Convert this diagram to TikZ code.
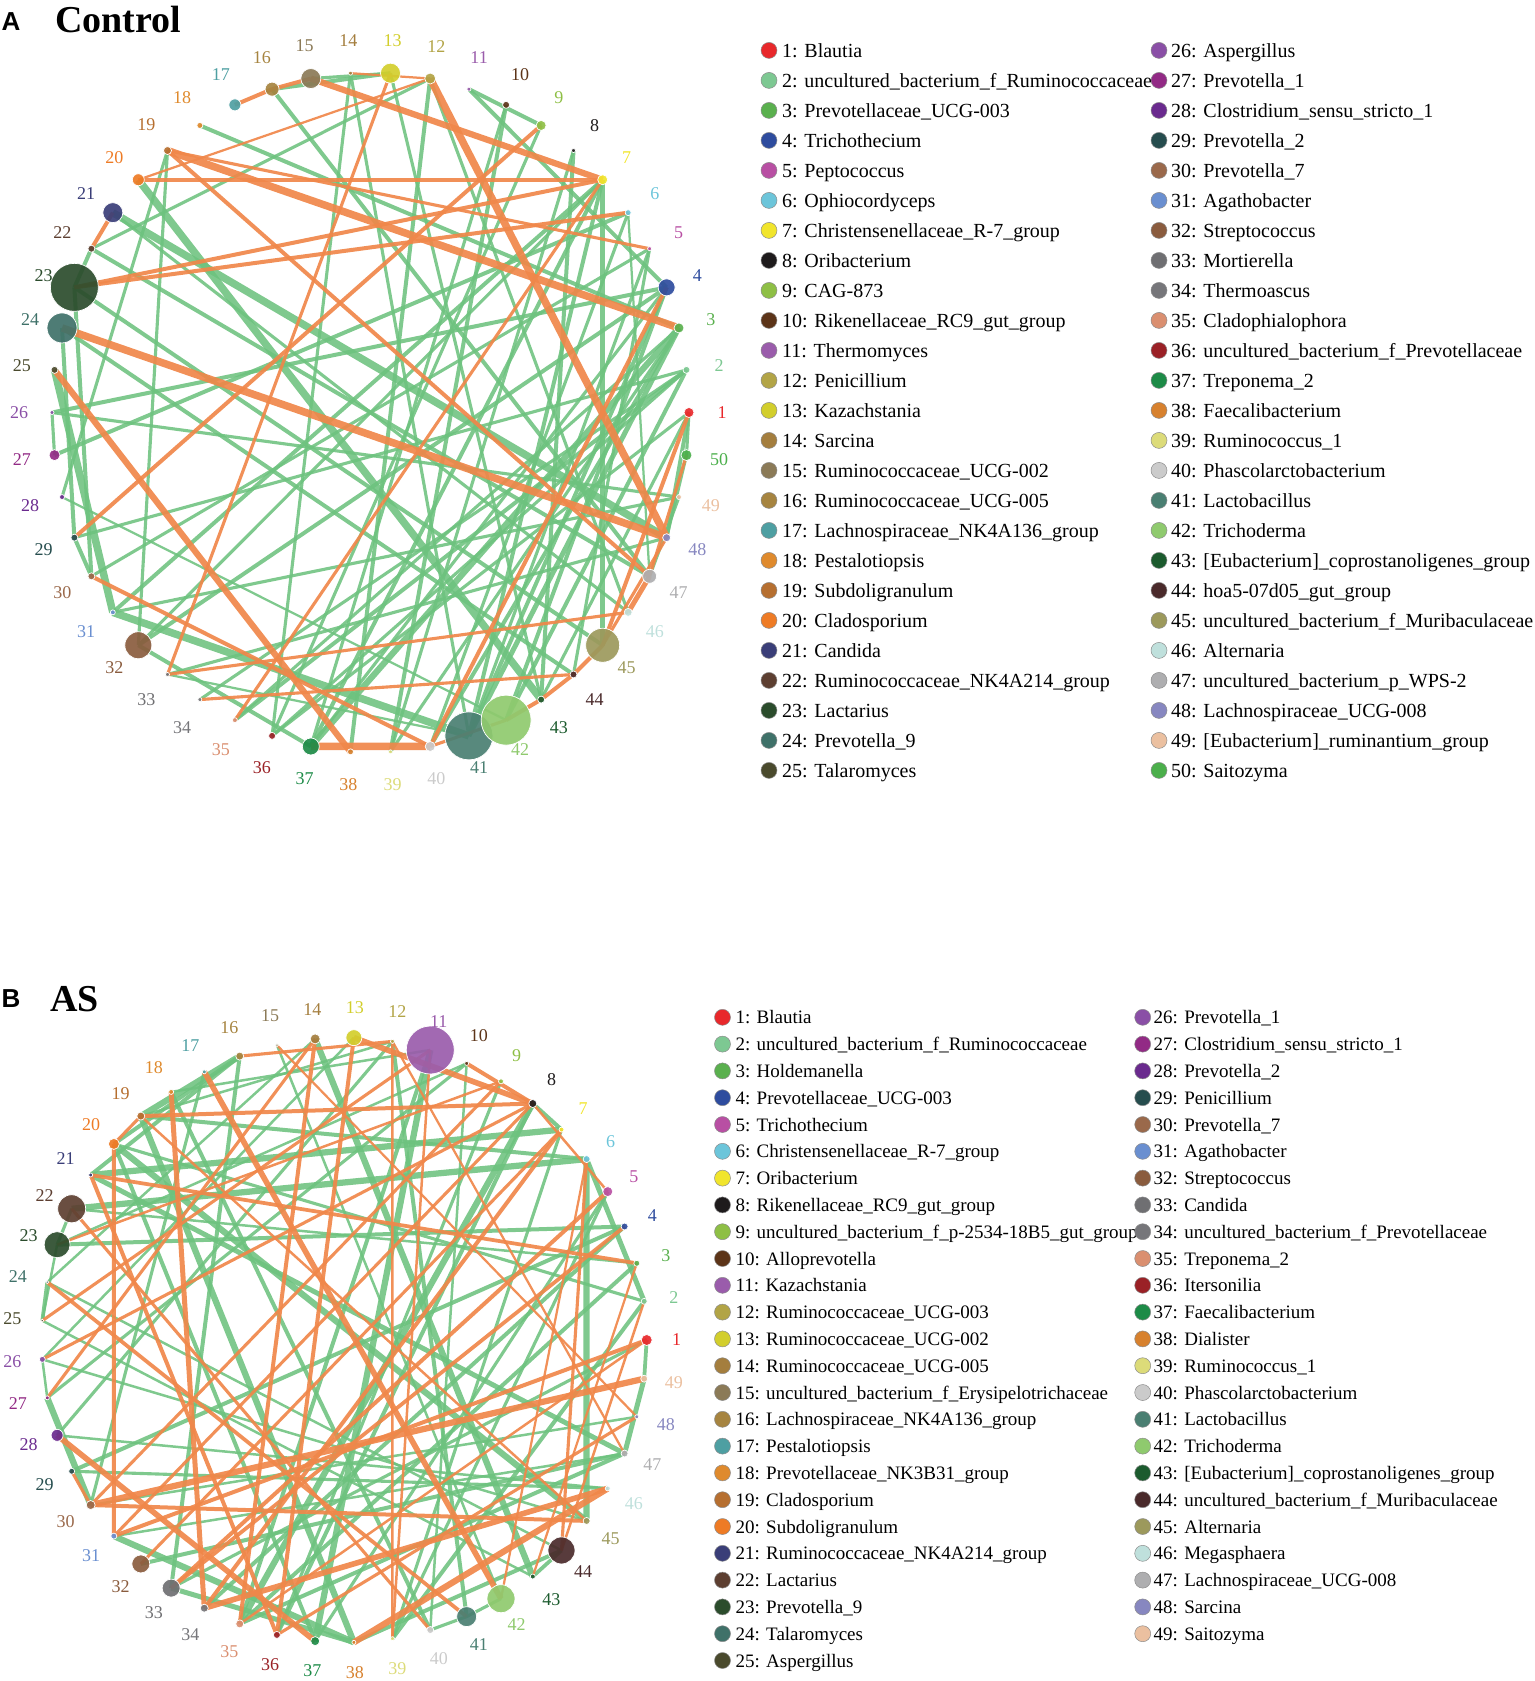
\documentclass[tikz,border=0pt]{standalone}
\usepackage{fontspec}
\setmainfont{Liberation Serif}
\setsansfont{Liberation Sans}
\usetikzlibrary{backgrounds}

% palette, one colour per taxon index
\definecolor{c1}{HTML}{E8282B}
\definecolor{c2}{HTML}{7DC892}
\definecolor{c3}{HTML}{5AB04E}
\definecolor{c4}{HTML}{2E4C9E}
\definecolor{c5}{HTML}{B84FA3}
\definecolor{c6}{HTML}{6CC5DA}
\definecolor{c7}{HTML}{F1E52C}
\definecolor{c8}{HTML}{1E1B1C}
\definecolor{c9}{HTML}{8EBF45}
\definecolor{c10}{HTML}{5C3418}
\definecolor{c11}{HTML}{9A5CAB}
\definecolor{c12}{HTML}{B2A446}
\definecolor{c13}{HTML}{D2CE2C}
\definecolor{c14}{HTML}{A47E3E}
\definecolor{c15}{HTML}{8B7A57}
\definecolor{c16}{HTML}{A68440}
\definecolor{c17}{HTML}{4E9FA2}
\definecolor{c18}{HTML}{DF8A2D}
\definecolor{c19}{HTML}{B66F30}
\definecolor{c20}{HTML}{EE7B25}
\definecolor{c21}{HTML}{3A3E78}
\definecolor{c22}{HTML}{5D3F31}
\definecolor{c23}{HTML}{2B4C2C}
\definecolor{c24}{HTML}{3F7169}
\definecolor{c25}{HTML}{4A4A2D}
\definecolor{c26}{HTML}{8A4FA6}
\definecolor{c27}{HTML}{922A85}
\definecolor{c28}{HTML}{6A2A8E}
\definecolor{c29}{HTML}{264D4E}
\definecolor{c30}{HTML}{9A694B}
\definecolor{c31}{HTML}{6A8FD0}
\definecolor{c32}{HTML}{8A5C3E}
\definecolor{c33}{HTML}{6F6F72}
\definecolor{c34}{HTML}{76767A}
\definecolor{c35}{HTML}{DA8F70}
\definecolor{c36}{HTML}{9A2126}
\definecolor{c37}{HTML}{1D8B47}
\definecolor{c38}{HTML}{D7812E}
\definecolor{c39}{HTML}{DCDB79}
\definecolor{c40}{HTML}{CBCBCB}
\definecolor{c41}{HTML}{4A7F72}
\definecolor{c42}{HTML}{8FCA6E}
\definecolor{c43}{HTML}{1C5B2E}
\definecolor{c44}{HTML}{4A2A2B}
\definecolor{c45}{HTML}{9C995C}
\definecolor{c46}{HTML}{BFE0DC}
\definecolor{c47}{HTML}{AEAEB0}
\definecolor{c48}{HTML}{8787C0}
\definecolor{c49}{HTML}{EBC0A0}
\definecolor{c50}{HTML}{4BAF4B}
\definecolor{poscol}{HTML}{6DC27E}
\definecolor{negcol}{HTML}{F0874A}

\tikzset{
  taxon/.style={circle, inner sep=0pt, draw=white, line width=0.7pt, fill opacity=0.92},
  poslink/.style={draw=poscol, draw opacity=0.88},
  neglink/.style={draw=negcol, draw opacity=0.92},
  num/.style={font=\fontsize{18}{18}\selectfont, inner sep=0pt},
  legdot/.style={circle, inner sep=0pt, minimum size=16pt, draw=black!45, line width=0.5pt},
  legA/.style={anchor=base west, inner sep=0pt, font=\fontsize{20}{20}\selectfont},
  legB/.style={anchor=base west, inner sep=0pt, font=\fontsize{19}{19}\selectfont},
  paneltag/.style={font=\sffamily\bfseries\fontsize{26}{26}\selectfont, inner sep=0pt},
  paneltitle/.style={font=\bfseries\fontsize{38}{38}\selectfont, inner sep=0pt, anchor=west},
}

\begin{document}
\begin{tikzpicture}[x=1pt, y=-1pt]
\useasboundingbox (0,0) rectangle (1534,1681);

% panel headings
\node[paneltag] (tagA) at (11,22) {A};
\node[paneltitle] (titA) at (55,20) {Control};
\node[paneltag] (tagB) at (11,999) {B};
\node[paneltitle] (titB) at (50,999) {AS};

% ---- network A (Control), 50 taxa on an ellipse
\foreach \i/\r in {1/5,2/3.5,3/5,4/8.5,5/2,6/3,7/5,8/2,9/5,10/3.5,11/2,12/5.5,13/10,14/2,15/10,16/7,17/6,18/3,19/4,20/6,21/10,22/3.5,23/24,24/15,25/3.5,26/2,27/5.5,28/2.5,29/3.5,30/3.5,31/2.5,32/13.5,33/2,34/2,35/2.5,36/3.5,37/8.5,38/3,39/2,40/5,41/24,42/25,43/3.5,44/3.5,45/17,46/4,47/7,48/4,49/2.5,50/5.5}{
  \node[taxon, fill=c\i, minimum size=2*\r pt] (a\i) at ({370.5+318.5*cos((\i-1)*7.2)},{412.5-340*sin((\i-1)*7.2)}) {};
  \node[num, text=c\i] (al\i) at ({370.5+351.5*cos((\i-1)*7.2)},{412.5-373*sin((\i-1)*7.2)}) {\i};
}

\begin{scope}[on background layer]
  \foreach \s/\t/\w in {20/43/6,21/48/6,25/31/6,31/41/6,37/3/5,7/45/4.5,16/13/3.2,15/13/2.5,16/47/3.2,11/9/3.2,11/4/3.2,10/39/3.2,10/37/2.5,8/43/3.2,7/41/3.2,7/37/3.2,7/32/2.5,7/31/3.2,6/47/1.8,5/44/2.5,5/41/2.5,4/41/3.2,4/42/3.2,4/37/2.5,3/41/4,3/40/3.2,3/39/2.5,2/42/3.2,2/35/3.2,2/36/2.5,1/48/3.2,1/43/2.5,1/50/2.5,49/47/2.5,50/48/2.5,22/12/2.5,22/47/3.2,22/23/3.2,18/3/3.2,19/32/2.5,19/28/2.5,23/30/3.2,24/29/3.2,26/4/3.2,27/6/3.2,27/26/2.5,28/42/1.8,29/30/3.2,30/5/2.5,32/37/3.2,32/4/3.2,33/48/2.5,34/2/2.5,35/3/2.5,36/14/2.5,38/12/3.2,14/41/2.5,13/43/2.5,12/46/2.5,8/39/2.5,9/36/2.5,6/40/2.5,24/44/3.2,23/45/3.2,21/46/2.5,26/49/2.5,29/2/2.5,36/1/2.5,31/49/2.5,33/41/1.8}
    \draw[poslink, line width=1.25*\w pt] (a\s.center) -- (a\t.center);
  \foreach \s/\t/\w in {17/16/3.2,16/15/3.2,14/12/1.8,15/7/5,12/48/6,20/7/3.2,19/3/6,19/47/3.2,20/12/1.8,23/7/3.2,23/6/3.2,21/22/3.2,24/48/6,25/38/5,9/29/3.2,13/33/2.5,30/40/3.2,33/46/2.5,34/44/2.5,7/35/2.5,37/40/6,4/40/3.2,1/45/3.2,50/47/2.5,45/44/3.2,44/43/3.2,43/42/3.2,46/47/4,40/42/2.5,19/5/2.5,48/45/2.5}
    \draw[neglink, line width=1.25*\w pt] (a\s.center) -- (a\t.center);
\end{scope}

% legend A
\foreach \i/\t in {1/Blautia,2/uncultured\_bacterium\_f\_Ruminococcaceae,3/Prevotellaceae\_UCG-003,4/Trichothecium,5/Peptococcus,6/Ophiocordyceps,7/Christensenellaceae\_R-7\_group,8/Oribacterium,9/CAG-873,10/Rikenellaceae\_RC9\_gut\_group,11/Thermomyces,12/Penicillium,13/Kazachstania,14/Sarcina,15/Ruminococcaceae\_UCG-002,16/Ruminococcaceae\_UCG-005,17/Lachnospiraceae\_NK4A136\_group,18/Pestalotiopsis,19/Subdoligranulum,20/Cladosporium,21/Candida,22/Ruminococcaceae\_NK4A214\_group,23/Lactarius,24/Prevotella\_9,25/Talaromyces}{
  \node[legdot, fill=c\i] (ka\i) at (769,{50.4+30*(\i-1)}) {};
  \node[legA] (ta\i) at (782,{57.4+30*(\i-1)}) {\i: \t};
}
\foreach \i/\t in {26/Aspergillus,27/Prevotella\_1,28/Clostridium\_sensu\_stricto\_1,29/Prevotella\_2,30/Prevotella\_7,31/Agathobacter,32/Streptococcus,33/Mortierella,34/Thermoascus,35/Cladophialophora,36/uncultured\_bacterium\_f\_Prevotellaceae,37/Treponema\_2,38/Faecalibacterium,39/Ruminococcus\_1,40/Phascolarctobacterium,41/Lactobacillus,42/Trichoderma,43/[Eubacterium]\_coprostanoligenes\_group,44/hoa5-07d05\_gut\_group,45/uncultured\_bacterium\_f\_Muribaculaceae,46/Alternaria,47/uncultured\_bacterium\_p\_WPS-2,48/Lachnospiraceae\_UCG-008,49/[Eubacterium]\_ruminantium\_group,50/Saitozyma}{
  \node[legdot, fill=c\i] (ka\i) at (1159,{50.4+30*(\i-26)}) {};
  \node[legA] (ta\i) at (1171,{57.4+30*(\i-26)}) {\i: \t};
}

% ---- network B (AS), 49 taxa on a circle
\foreach \i/\r in {1/5.5,2/3,3/3,4/3.5,5/5,6/3.5,7/2.5,8/4,9/2.5,10/2,11/24,12/2,13/8,14/5,15/1.5,16/4,17/2,18/2.5,19/4,20/5.5,21/2,22/14,23/13,24/1.5,25/1.5,26/3,27/2,28/6,29/3,30/4.5,31/3,32/9,33/9,34/4,35/4,36/3.5,37/4.5,38/2,39/2,40/3.5,41/10,42/14,43/2.5,44/13.5,45/3.5,46/2.5,47/3.5,48/2,49/3.5}{
  \node[taxon, fill=c\i, minimum size=2*\r pt] (b\i) at ({344.2+302.5*cos((\i-1)*7.3469)},{1340-302.5*sin((\i-1)*7.3469)}) {};
  \node[num, text=c\i] (bl\i) at ({344.2+332.5*cos((\i-1)*7.3469)},{1340-332.5*sin((\i-1)*7.3469)}) {\i};
}

\begin{scope}[on background layer]
  \foreach \s/\t/\w in {19/16/5,19/38/5,19/6/3.2,21/7/5,22/6/5,23/4/3.2,21/47/4,20/45/5,20/37/3.2,16/33/3.2,17/30/2.5,14/43/5,18/11/2,19/12/2,23/10/2,24/44/2,11/37/5,11/35/3.2,10/40/2,8/35/5,6/45/5,6/2/4,12/41/3.2,27/30/5,28/46/2,31/38/5,32/47/3.2,33/38/4,35/47/3.2,38/44/3.2,40/41/2.5,41/42/2.5,43/44/3,49/47/4,1/49/3,22/23/2.5,23/25/2,24/25/3,26/27/2,16/21/3.2,14/24/2,13/26/2,9/36/2.5,7/39/2.5,5/37/2.5,4/34/3.2,3/35/3.2,2/39/3.2,1/33/2.5,48/30/2,47/31/2,46/29/2.5,45/26/2,8/7/3.2,16/20/3.2,22/3/2,20/2/2.5,25/43/2,18/40/3.2,10/27/2.5,12/28/2.5,15/42/2,29/4/3.2,36/8/3.2,39/5/2.5}
    \draw[poslink, line width=1.25*\w pt] (b\s.center) -- (b\t.center);
  \foreach \s/\t/\w in {15/48/1.8,14/35/3.2,13/36/3.2,16/12/2.5,17/42/4.5,18/34/4,19/8/3.2,19/45/2,20/31/3.2,21/36/3.2,25/11/2.5,26/8/2.5,20/19/2.5,13/8/4.5,10/8/3.2,9/30/2.5,8/31/2.5,7/34/3.2,8/5/2,5/33/3.2,3/21/3,2/44/2,6/42/1.8,28/37/4.5,30/49/5,30/45/3.2,31/1/3.2,33/4/3,34/46/4.5,38/46/5,24/41/3,43/3/1.8,44/6/2.5,12/47/1.8,29/30/2.5,22/40/2.5,23/9/2,11/39/2,27/14/2.5,32/7/2.5,35/1/2,36/48/2.5,39/12/2}
    \draw[neglink, line width=1.25*\w pt] (b\s.center) -- (b\t.center);
\end{scope}

% legend B
\foreach \i/\t in {1/Blautia,2/uncultured\_bacterium\_f\_Ruminococcaceae,3/Holdemanella,4/Prevotellaceae\_UCG-003,5/Trichothecium,6/Christensenellaceae\_R-7\_group,7/Oribacterium,8/Rikenellaceae\_RC9\_gut\_group,9/uncultured\_bacterium\_f\_p-2534-18B5\_gut\_group,10/Alloprevotella,11/Kazachstania,12/Ruminococcaceae\_UCG-003,13/Ruminococcaceae\_UCG-002,14/Ruminococcaceae\_UCG-005,15/uncultured\_bacterium\_f\_Erysipelotrichaceae,16/Lachnospiraceae\_NK4A136\_group,17/Pestalotiopsis,18/Prevotellaceae\_NK3B31\_group,19/Cladosporium,20/Subdoligranulum,21/Ruminococcaceae\_NK4A214\_group,22/Lactarius,23/Prevotella\_9,24/Talaromyces,25/Aspergillus}{
  \node[legdot, fill=c\i] (kb\i) at (722.5,{1017.3+26.8*(\i-1)}) {};
  \node[legB] (tb\i) at (735.4,{1023.8+26.8*(\i-1)}) {\i: \t};
}
\foreach \i/\t in {26/Prevotella\_1,27/Clostridium\_sensu\_stricto\_1,28/Prevotella\_2,29/Penicillium,30/Prevotella\_7,31/Agathobacter,32/Streptococcus,33/Candida,34/uncultured\_bacterium\_f\_Prevotellaceae,35/Treponema\_2,36/Itersonilia,37/Faecalibacterium,38/Dialister,39/Ruminococcus\_1,40/Phascolarctobacterium,41/Lactobacillus,42/Trichoderma,43/[Eubacterium]\_coprostanoligenes\_group,44/uncultured\_bacterium\_f\_Muribaculaceae,45/Alternaria,46/Megasphaera,47/Lachnospiraceae\_UCG-008,48/Sarcina,49/Saitozyma}{
  \node[legdot, fill=c\i] (kb\i) at (1142.7,{1017.3+26.8*(\i-26)}) {};
  \node[legB] (tb\i) at (1153.5,{1023.8+26.8*(\i-26)}) {\i: \t};
}
\end{tikzpicture}
\end{document}
